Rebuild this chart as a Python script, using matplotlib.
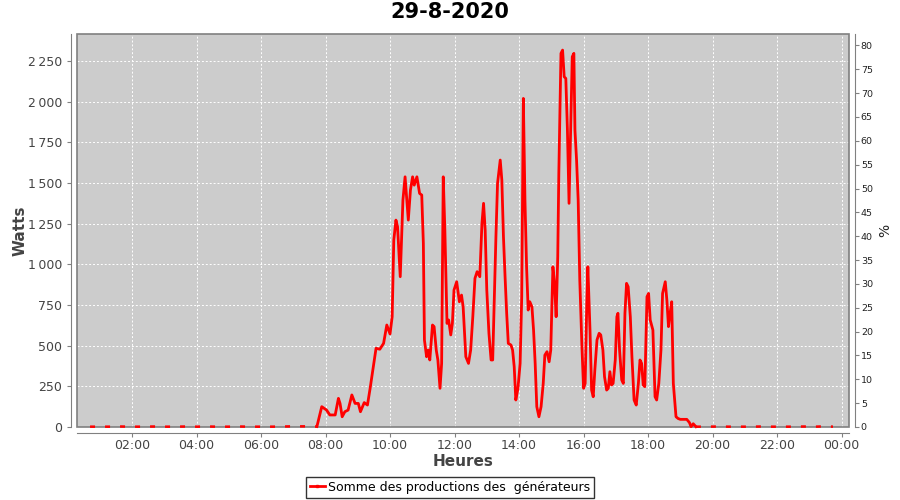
import matplotlib
matplotlib.use("Agg")
import matplotlib.pyplot as plt
from matplotlib.patches import Rectangle
from matplotlib.lines import Line2D
from matplotlib.ticker import FuncFormatter, MultipleLocator

title = "29-8-2020"
series_name = "Somme des productions des  générateurs"

# night (near zero) readings, shown as a dotted trace at the bottom
night_times = ["00:42", "01:00", "01:20", "01:40", "02:00", "02:20", "02:40", "03:00",
               "03:20", "03:40", "04:00", "04:20", "04:40", "05:00", "05:20", "05:40",
               "06:00", "06:20", "06:40", "07:00", "07:20", "07:44"]
night_watts = [2, 2, 2, 3, 2, 2, 3, 2, 2, 3, 2, 3, 2, 2, 3, 2, 2, 2, 3, 4, 4, 3]

# daytime production readings
day_times = ["07:44", "07:53", "08:02", "08:08", "08:18", "08:24", "08:27", "08:31", "08:36",
             "08:42", "08:49", "08:55", "09:01", "09:05", "09:12", "09:18", "09:23", "09:28",
             "09:34", "09:41", "09:48", "09:54", "10:00", "10:04", "10:07", "10:11", "10:14",
             "10:19", "10:24", "10:28", "10:34", "10:38", "10:42", "10:45", "10:50", "10:55",
             "10:59", "11:02", "11:04", "11:08", "11:11", "11:14", "11:19", "11:22", "11:26",
             "11:29", "11:33", "11:36", "11:39", "11:42", "11:46", "11:49", "11:53", "11:56",
             "11:59", "12:04", "12:09", "12:13", "12:16", "12:21", "12:26", "12:30", "12:34",
             "12:38", "12:42", "12:47", "12:51", "12:54", "12:57", "13:00", "13:04", "13:08",
             "13:11", "13:14", "13:17", "13:20", "13:25", "13:28", "13:31", "13:34", "13:37",
             "13:40", "13:45", "13:48", "13:51", "13:54", "13:58", "14:02", "14:05", "14:08",
             "14:11", "14:14", "14:17", "14:20", "14:24", "14:27", "14:30", "14:33", "14:37",
             "14:41", "14:45", "14:48", "14:52", "14:56", "14:59", "15:03", "15:06", "15:09",
             "15:12", "15:14", "15:18", "15:21", "15:24", "15:27", "15:30", "15:33", "15:36",
             "15:39", "15:42", "15:44", "15:47", "15:50", "15:53", "15:57", "16:00", "16:03",
             "16:06", "16:08", "16:12", "16:15", "16:18", "16:21", "16:25", "16:29", "16:32",
             "16:36", "16:39", "16:43", "16:46", "16:49", "16:52", "16:55", "16:59", "17:02",
             "17:04", "17:07", "17:11", "17:14", "17:17", "17:20", "17:23", "17:27", "17:30",
             "17:34", "17:38", "17:42", "17:45", "17:48", "17:51", "17:54", "17:58", "18:01",
             "18:04", "18:09", "18:13", "18:16", "18:20", "18:24", "18:27", "18:32", "18:35",
             "18:38", "18:41", "18:44", "18:47", "18:52", "18:56", "19:00", "19:12", "19:17",
             "19:20", "19:24", "19:29"]
day_watts = [3, 125, 104, 74, 74, 176, 145, 63, 94,
             104, 197, 145, 145, 94, 150, 135, 238, 350,
             484, 478, 514, 627, 572, 678, 1149, 1272, 1231,
             924, 1395, 1538, 1272, 1457, 1538, 1487, 1538, 1436,
             1426, 1129, 535, 432, 473, 412, 627, 617, 473,
             412, 238, 391, 1538, 1211, 637, 658, 566, 637,
             842, 893, 770, 811, 739, 432, 391, 473, 678,
             914, 955, 924, 1252, 1375, 1211, 842, 576, 412,
             412, 801, 1170, 1498, 1641, 1518, 1170, 924, 699,
             514, 504, 473, 371, 166, 238, 391, 801, 2020,
             1395, 985, 719, 770, 739, 596, 391, 125, 63,
             125, 268, 442, 463, 401, 473, 985, 883, 678,
             1047, 1559, 2297, 2317, 2153, 2143, 1825, 1375, 1825,
             2276, 2297, 1825, 1641, 1395, 903, 494, 238, 268,
             760, 985, 596, 227, 186, 350, 535, 576, 566,
             473, 309, 227, 238, 340, 258, 268, 412, 678,
             699, 473, 289, 268, 699, 883, 862, 678, 432,
             166, 135, 268, 412, 391, 258, 248, 801, 821,
             658, 596, 186, 166, 268, 473, 821, 893, 780,
             617, 699, 770, 268, 63, 52, 47, 47, 27,
             2, 20, 2]

# evening tail (near zero)
eve_times = ["19:29", "19:50", "20:10", "20:30", "20:50", "21:10", "21:30", "21:50",
             "22:10", "22:30", "22:50", "23:10", "23:30", "23:44"]
eve_watts = [2, 2, 3, 2, 2, 2, 3, 2, 2, 2, 3, 2, 4, 2]

x_ticks = ["02:00", "04:00", "06:00", "08:00", "10:00", "12:00",
           "14:00", "16:00", "18:00", "20:00", "22:00", "00:00"]


def to_h(s):
    h, m = s.split(":")
    return int(h) + int(m) / 60.0


tick_pos = [to_h(t) if t != "00:00" else 24.0 for t in x_ticks]

red = "#FF0000"
txt = "#444444"
axcol = "#808080"

fig = plt.figure(figsize=(9, 5), dpi=100)
ax = fig.add_axes([77 / 900, 1 - 427 / 500, (849 - 77) / 900, (427 - 34) / 500])
ax.set_facecolor("#CCCCCC")
ax.set_xlim(0.295, 24.23)
ax.set_ylim(0, 2416)

ax.grid(True, color="white", linestyle=(0, (2, 2)), linewidth=0.7)
ax.set_axisbelow(True)

# plot-area frame
ax.add_patch(Rectangle((0, 0), 1, 1, transform=ax.transAxes, fill=False,
                       edgecolor=axcol, lw=1.2, zorder=2.5, clip_on=False))

ax.plot([to_h(t) for t in night_times], night_watts, color=red, lw=1.8,
        linestyle=(0, (2, 4)), clip_on=False, zorder=6)
ax.plot([to_h(t) for t in eve_times], eve_watts, color=red, lw=1.8,
        linestyle=(0, (2, 4)), clip_on=False, zorder=6)
ax.plot([to_h(t) for t in day_times], day_watts, color=red, lw=2.0,
        solid_joinstyle="round", zorder=6, clip_on=False)

for s in ["top", "right"]:
    ax.spines[s].set_visible(False)
for s in ["left", "bottom"]:
    ax.spines[s].set_position(("outward", 4))
    ax.spines[s].set_color(axcol)

ax.set_xticks(tick_pos)
ax.set_xticklabels(x_ticks)
ax.yaxis.set_major_locator(MultipleLocator(250))
ax.yaxis.set_major_formatter(FuncFormatter(
    lambda v, p: ("{:,}".format(int(v))).replace(",", "\u2009")))
ax.tick_params(axis="both", colors=axcol, labelcolor=txt, labelsize=9, length=3)
ax.tick_params(axis="x", pad=1.5)

ax.set_xlabel("Heures", fontsize=11, fontweight="bold", color=txt)
ax.set_ylabel("Watts", fontsize=11, fontweight="bold", color=txt)
ax.xaxis.set_label_coords(0.5, (427 - 454) / 393)
ax.yaxis.set_label_coords((28 - 77) / 772, 0.5)

ax2 = ax.twinx()
ax2.set_ylim(0, 82.4)
ax2.yaxis.set_major_locator(MultipleLocator(5))
for s in ["top", "left", "bottom"]:
    ax2.spines[s].set_visible(False)
ax2.spines["right"].set_position(("outward", 4))
ax2.spines["right"].set_color(axcol)
ax2.tick_params(axis="y", colors=axcol, labelcolor="#222222", labelsize=6.8,
                length=3, pad=1.5)
ax2.set_ylabel("%", fontsize=10, color="#222222")
ax2.yaxis.set_label_coords((878 - 77) / 772, 0.5)

fig.suptitle(title, x=0.5, y=0.995, fontsize=15, fontweight="bold", color="black")

handle = Line2D([0], [0], color=red, lw=2, marker="s", markersize=1.5)
leg = fig.legend([handle], [series_name], loc="lower center",
                 bbox_to_anchor=(0.5, 0.0), fontsize=9, frameon=True,
                 fancybox=False, edgecolor="black", handlelength=1.2,
                 handletextpad=0.3, borderpad=0.3, borderaxespad=0.2)
leg.get_frame().set_linewidth(1.0)
for t in leg.get_texts():
    t.set_color("black")

fig.savefig("out.png", dpi=100)
